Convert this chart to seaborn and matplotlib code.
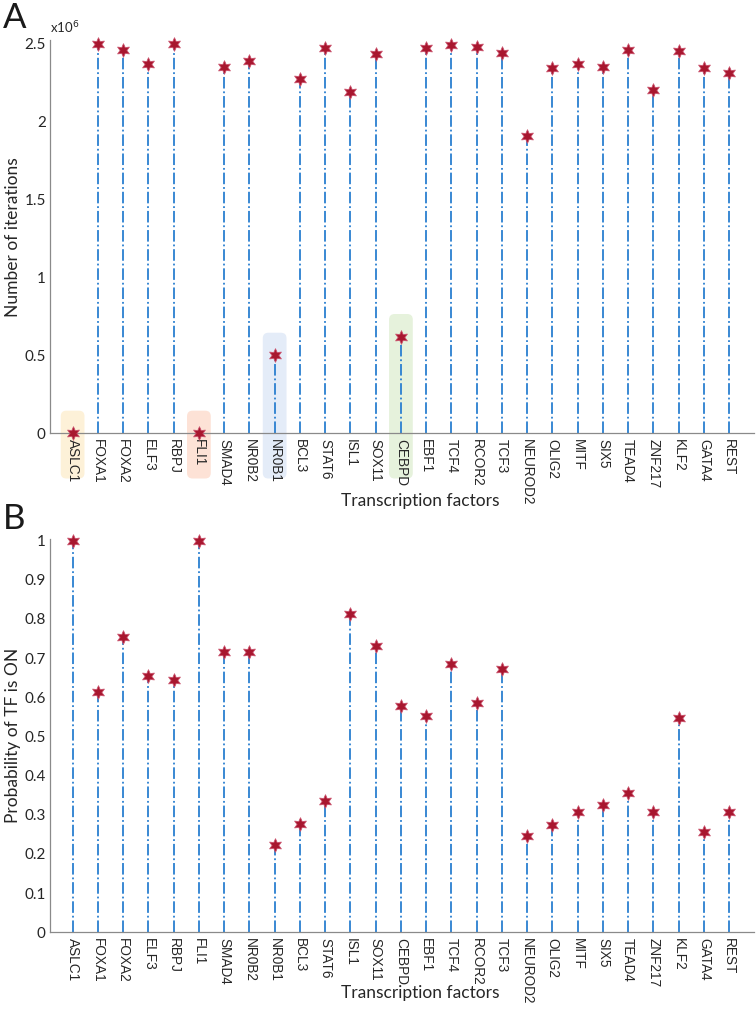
import numpy as np
import pandas as pd
import matplotlib
matplotlib.use("Agg")
import matplotlib.pyplot as plt
from matplotlib.patches import FancyBboxPatch
import seaborn as sns

sns.set_theme(style="white")
plt.rcParams['font.family'] = ['Lato', 'DejaVu Sans']

# Data
tfs = ['ASLC1', 'FOXA1', 'FOXA2', 'ELF3', 'RBPJ', 'FLI1', 'SMAD4', 'NR0B2', 'NR0B1',
       'BCL3', 'STAT6', 'ISL1', 'SOX11', 'CEBPD', 'EBF1', 'TCF4', 'RCOR2', 'TCF3',
       'NEUROD2', 'OLIG2', 'MITF', 'SIX5', 'TEAD4', 'ZNF217', 'KLF2', 'GATA4', 'REST']

# panel A, number of iterations (x1e6)
iterations = [0.0, 2.50, 2.46, 2.37, 2.50, 0.0, 2.35, 2.39, 0.50,
              2.27, 2.47, 2.19, 2.43, 0.62, 2.47, 2.49, 2.48, 2.44,
              1.91, 2.34, 2.37, 2.35, 2.46, 2.20, 2.45, 2.34, 2.31]

# panel B, probability of TF is ON
prob_on = [1.0, 0.614, 0.753, 0.655, 0.645, 1.0, 0.715, 0.715, 0.223,
           0.277, 0.334, 0.813, 0.730, 0.577, 0.553, 0.684, 0.586, 0.673,
           0.245, 0.273, 0.306, 0.326, 0.356, 0.306, 0.548, 0.257, 0.308]

# highlighted TFs in panel A and their box colours
highlight = {'ASLC1': '#fdf1d8', 'FLI1': '#fde2d6', 'NR0B1': '#e4ecf8', 'CEBPD': '#e6f2dc'}

STEM_COLOR = '#2a7fd0'
MARK_COLOR = '#a8172f'
SPINE_COLOR = '#8a8a8a'
TEXT_COLOR = '#262626'

df = pd.DataFrame({'tf': tfs, 'pos': np.arange(1, len(tfs) + 1),
                   'iterations': np.array(iterations) * 1e6, 'prob': prob_on})


def stem_panel(ax, col, ylim, yticks, yticklabels, ylabel, xlab_y):
    ax.vlines(df['pos'], 0, df[col], colors=STEM_COLOR, linestyles='-.', linewidth=1.3, zorder=2)
    sns.scatterplot(data=df, x='pos', y=col, ax=ax, marker=(6, 1, 0), s=95,
                    color=MARK_COLOR, edgecolor='#c9506a', linewidth=0.6, zorder=3, clip_on=False)
    ax.set_xlim(0.1, 28.0)
    ax.set_ylim(*ylim)
    ax.set_xticks(df['pos'])
    ax.set_xticklabels(df['tf'], rotation=-90, fontsize=9.8, color=TEXT_COLOR,
                       family=['Liberation Sans', 'DejaVu Sans'])
    ax.set_yticks(yticks)
    ax.set_yticklabels(yticklabels, fontsize=11, color=TEXT_COLOR)
    ax.tick_params(axis='both', direction='in', length=4, width=0.8, color=SPINE_COLOR, pad=3)
    ax.tick_params(axis='x', length=0, pad=4)
    for s in ['top', 'right']:
        ax.spines[s].set_visible(False)
    for s in ['left', 'bottom']:
        ax.spines[s].set_color(SPINE_COLOR)
        ax.spines[s].set_linewidth(0.9)
    ax.set_ylabel(ylabel, fontsize=12.5, color=TEXT_COLOR)
    ax.set_xlabel('Transcription factors', fontsize=12.5, color=TEXT_COLOR)
    ax.xaxis.set_label_coords(0.526, xlab_y)
    ax.yaxis.set_label_coords(-0.041, 0.5)


fig = plt.figure(figsize=(7.56, 10.10), dpi=100)

axA = fig.add_axes([0.066, 0.571, 0.932, 0.389])
stem_panel(axA, 'iterations', (0, 2.52e6), np.arange(0, 2.51e6, 0.5e6),
           ['0', '0.5', '1', '1.5', '2', '2.5'], 'Number of iterations', -0.152)

# highlight boxes behind selected TFs
px_x = axA.transData.transform((1, 0))[0] - axA.transData.transform((0, 0))[0]
px_y = axA.transData.transform((0, 1e6))[1] - axA.transData.transform((0, 0))[1]
for name, c in highlight.items():
    row = df[df['tf'] == name].iloc[0]
    top = row['iterations'] + 0.145e6
    bottom = -0.29e6
    box = FancyBboxPatch((row['pos'] - 0.47, bottom), 0.94, top - bottom,
                         boxstyle='round,pad=0,rounding_size=0.22',
                         mutation_aspect=(1e6 / px_y) / (1 / px_x),
                         facecolor=c, edgecolor='none', zorder=0, clip_on=False)
    axA.add_patch(box)

axA.text(0.0, 1.012, r'x10$^6$', transform=axA.transAxes, fontsize=9.5, color=TEXT_COLOR,
         ha='left', va='bottom')

axB = fig.add_axes([0.066, 0.077, 0.932, 0.389])
stem_panel(axB, 'prob', (0, 1.003), np.arange(0, 1.01, 0.1),
           ['0', '0.1', '0.2', '0.3', '0.4', '0.5', '0.6', '0.7', '0.8', '0.9', '1'],
           'Probability of TF is ON', -0.135)

fig.text(0.004, 0.998, 'A', fontsize=25, color='#1a1a1a', ha='left', va='top')
fig.text(0.004, 0.502, 'B', fontsize=25, color='#1a1a1a', ha='left', va='top')

fig.savefig('out.png', dpi=100)
